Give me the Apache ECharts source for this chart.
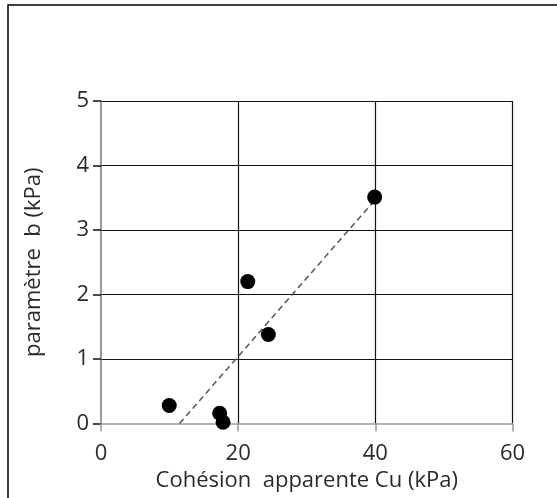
<!DOCTYPE html>
<html><head><meta charset="utf-8">
<script src="https://cdn.jsdelivr.net/npm/echarts@6/dist/echarts.min.js"></script>
<style>html,body{margin:0;padding:0;background:#fff}#c{width:557px;height:498px}</style>
</head><body><div id="c"></div>
<script>
const cohesion = [9.95, 17.3, 17.8, 21.4, 24.4, 39.9];
const paramB = [0.28, 0.16, 0.02, 2.2, 1.38, 3.51];
const trendX = [11.45, 39.9];
const trendY = [0, 3.46];
const xTicks = [0, 20, 40, 60];
const yTicks = [0, 1, 2, 3, 4, 5];
const xName = 'Cohésion  apparente Cu (kPa)';
const yName = 'paramètre  b (kPa)';

const font = '"Open Sans", sans-serif';
const chart = echarts.init(document.getElementById('c'), null, {renderer: 'canvas'});
chart.setOption({
  animation: false,
  backgroundColor: '#fff',
  graphic: [{type: 'rect', shape: {x: 8, y: 5, width: 600, height: 600}, style: {fill: 'none', stroke: '#000', lineWidth: 1.5}, z: 100}],
  grid: {left: 101, right: 44.5, top: 101, bottom: 74.5},
  xAxis: {
    type: 'value', min: xTicks[0], max: xTicks[xTicks.length - 1], interval: 20,
    name: xName, nameLocation: 'middle', nameGap: 44,
    nameTextStyle: {fontFamily: font, fontSize: 22, color: '#2a2a2a'},
    axisLine: {show: true, lineStyle: {color: '#999', width: 1.5}},
    axisTick: {show: true, length: 8, lineStyle: {color: '#999', width: 1.5}},
    axisLabel: {fontFamily: font, fontSize: 22, color: '#2a2a2a', margin: 19},
    splitLine: {show: true, showMinLine: false, lineStyle: {color: '#111', width: 1.2}}
  },
  yAxis: {
    type: 'value', min: yTicks[0], max: yTicks[yTicks.length - 1], interval: 1,
    name: yName, nameLocation: 'middle', nameGap: 56,
    nameTextStyle: {fontFamily: font, fontSize: 22, color: '#2a2a2a'},
    axisLine: {show: true, lineStyle: {color: '#777', width: 1.5}},
    axisTick: {show: true, length: 8, lineStyle: {color: '#111', width: 1.5}},
    axisLabel: {fontFamily: font, fontSize: 22, color: '#2a2a2a', margin: 12},
    splitLine: {show: true, showMinLine: false, lineStyle: {color: '#111', width: 1.2}}
  },
  series: [
    {
      type: 'line', data: trendX.map((x, i) => [x, trendY[i]]),
      symbol: 'none', lineStyle: {color: '#555', width: 1.5, type: [6, 4]}, z: 3
    },
    {
      type: 'scatter', data: cohesion.map((x, i) => [x, paramB[i]]),
      symbol: 'circle', symbolSize: 15, itemStyle: {color: '#000', opacity: 1}, z: 4
    }
  ]
});
</script></body></html>
